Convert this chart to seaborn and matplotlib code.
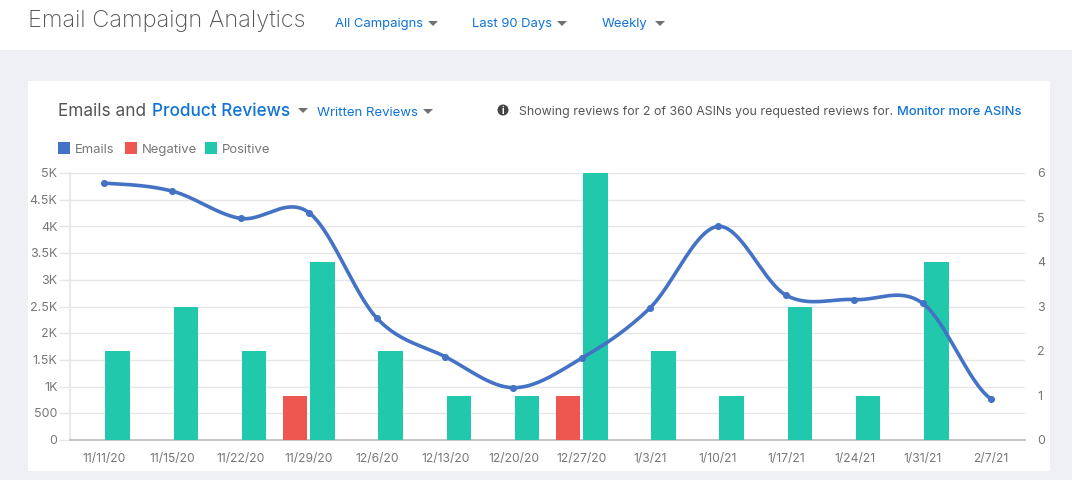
import numpy as np
import pandas as pd
import matplotlib
matplotlib.use('Agg')
import matplotlib.pyplot as plt
from matplotlib.patches import Rectangle, Circle, Polygon
from matplotlib.transforms import ScaledTranslation
import seaborn as sns

# Chart values
dates = ['11/11/20', '11/15/20', '11/22/20', '11/29/20', '12/6/20', '12/13/20', '12/20/20',
         '12/27/20', '1/3/21', '1/10/21', '1/17/21', '1/24/21', '1/31/21', '2/7/21']
emails = [4810, 4660, 4150, 4260, 2280, 1560, 980, 1530, 2470, 4000, 2710, 2630, 2560, 770]
negative = [0, 0, 0, 1, 0, 0, 0, 1, 0, 0, 0, 0, 0, 0]
positive = [2, 3, 2, 4, 2, 1, 1, 6, 2, 1, 3, 1, 4, 0]
left_ticks = [0, 500, 1000, 1500, 2000, 2500, 3000, 3500, 4000, 4500, 5000]
left_labels = ['0', '500', '1K', '1.5K', '2K', '2.5K', '3K', '3.5K', '4K', '4.5K', '5K']
right_ticks = [0, 1, 2, 3, 4, 5, 6]

BLUE = '#4472c4'
RED = '#ee5650'
TEAL = '#22c8ac'
LINK = '#0f73d8'
DARK = '#555555'
GREY = '#777777'
GRID = '#e6e6e6'
PAGE = '#eff0f4'
W, H = 1072, 481

sns.set_theme(style='white')
plt.rcParams['font.family'] = ['Inter', 'DejaVu Sans']


def smooth_line(y, n=40):
    # Catmull-Rom curve through the weekly points, same look as the chart's line
    y = np.asarray(y, dtype=float)
    m = np.gradient(y)
    m[0] = (y[1] - y[0]) / 2
    m[-1] = (y[-1] - y[-2]) / 2
    xs = np.linspace(0, len(y) - 1, (len(y) - 1) * n + 1)
    i = np.minimum(xs.astype(int), len(y) - 2)
    t = xs - i
    ys = (2 * t ** 3 - 3 * t ** 2 + 1) * y[i] + (t ** 3 - 2 * t ** 2 + t) * m[i] \
        + (3 * t ** 2 - 2 * t ** 3) * y[i + 1] + (t ** 3 - t ** 2) * m[i + 1]
    return xs, ys


fig = plt.figure(figsize=(W / 100, H / 100), dpi=100, facecolor=PAGE)

# page furniture drawn in pixel coordinates
bg = fig.add_axes([0, 0, 1, 1])
bg.set_xlim(0, W)
bg.set_ylim(H - 1, -1)
bg.axis('off')
bg.add_patch(Rectangle((0, -1), W, 51, color='white', lw=0))
bg.add_patch(Rectangle((28, 81), 1022, 390, color='white', lw=0))


def caret(x, y, w=10, h=5, color='#707070'):
    bg.add_patch(Polygon([(x, y), (x + w, y), (x + w / 2, y + h)], color=color, lw=0))


bg.text(28, 20, 'Email Campaign Analytics', fontsize=17, color=DARK, va='center', weight='light')
for label, x, cx in [('All Campaigns', 335, 428), ('Last 90 Days', 472, 557), ('Weekly', 602, 655)]:
    bg.text(x, 23, label, fontsize=9.4, color=LINK, va='center')
    caret(cx, 21)

bg.text(58, 110, 'Emails and', fontsize=12.4, color=DARK, va='center')
bg.text(152, 110, 'Product Reviews', fontsize=12.4, color=LINK, va='center', weight='medium')
caret(298, 108)
bg.text(317, 112, 'Written Reviews', fontsize=9.5, color=LINK, va='center')
caret(423, 109)
bg.add_patch(Circle((503, 110), 5.5, color='#444444', lw=0))
bg.text(503, 110, 'i', fontsize=7, color='white', va='center', ha='center', weight='bold')
bg.text(519, 111, 'Showing reviews for 2 of 360 ASINs you requested reviews for.',
        fontsize=8.9, color=DARK, va='center')
bg.text(897, 111, 'Monitor more ASINs', fontsize=9.3, color=LINK, va='center', weight='medium')

for label, color, x in [('Emails', BLUE, 58), ('Negative', RED, 125), ('Positive', TEAL, 205)]:
    bg.add_patch(Rectangle((x, 142), 12, 12, color=color, lw=0))
    bg.text(x + 17, 149, label, fontsize=9.4, color=GREY, va='center')

# left axis carries the grid, bars sit above it and the line above both
rect = [70 / W, 1 - 441 / H, 955 / W, 267 / H]
ax = fig.add_axes(rect)
ax.patch.set_visible(False)
ax.set_xlim(-0.5, 13.5)
ax.set_ylim(0, 5000)
ax.set_yticks(left_ticks, left_labels)
ax.set_xticks(range(len(dates)), dates)
ax.grid(axis='y', color=GRID, lw=1)
ax.tick_params(axis='y', length=8, color=GRID, width=1, labelsize=9, labelcolor=GREY, pad=1)
ax.tick_params(axis='x', length=0, labelsize=8.7, labelcolor=GREY, pad=8.5)
sns.despine(ax=ax, top=True, right=True)
ax.spines['left'].set_color(GRID)
ax.spines['bottom'].set_color('#bdbdbd')

reviews = pd.DataFrame({'date': dates * 2,
                        'count': negative + positive,
                        'kind': ['Negative'] * len(dates) + ['Positive'] * len(dates)})
ax_bars = ax.twinx()
sns.barplot(data=reviews, x='date', y='count', hue='kind', order=dates,
            hue_order=['Negative', 'Positive'], palette={'Negative': RED, 'Positive': TEAL},
            width=0.8, gap=0.1, linewidth=0, saturation=1, legend=False, ax=ax_bars)
ax_bars.set_xlim(-0.5, 13.5)
ax_bars.set_ylim(0, 6)
ax_bars.set_yticks(right_ticks)
ax_bars.set_xlabel('')
ax_bars.set_ylabel('')
ax_bars.yaxis.set_label_position('right')
ax_bars.yaxis.tick_right()
ax_bars.tick_params(axis='y', length=0, labelsize=9, labelcolor=GREY, pad=9)
ax_bars.tick_params(axis='x', bottom=False, labelbottom=False)
sns.despine(ax=ax_bars, left=True, top=True, right=True, bottom=True)

# y labels sit about a pixel higher in the original
nudge = ScaledTranslation(0, 1.3 / 100, fig.dpi_scale_trans)
for lab in ax.get_yticklabels() + ax_bars.get_yticklabels():
    lab.set_transform(lab.get_transform() + nudge)

ax_line = ax.twinx()
ax_line.set_ylim(0, 5000)
ax_line.axis('off')
xs, ys = smooth_line(emails)
sns.lineplot(x=xs, y=ys, color=BLUE, lw=2.6, ax=ax_line, legend=False)
sns.scatterplot(x=range(len(emails)), y=emails, color=BLUE, s=26, linewidth=0, ax=ax_line,
                legend=False, zorder=3)
ax_line.set_xlim(-0.5, 13.5)
ax_line.set_ylim(0, 5000)

fig.savefig('out.png', dpi=100, facecolor=PAGE)
